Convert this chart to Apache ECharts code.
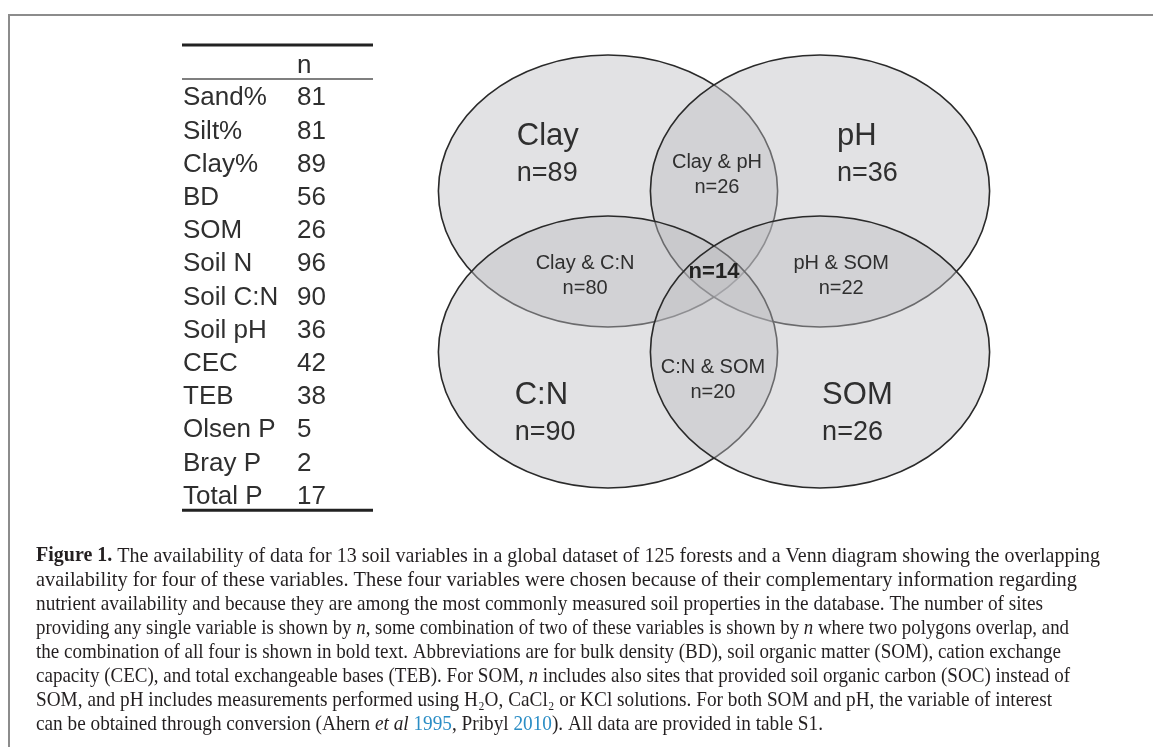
<!DOCTYPE html>
<html><head><meta charset="utf-8">
<script src="https://cdn.jsdelivr.net/npm/echarts@6/dist/echarts.min.js"></script>
<style>html,body{margin:0;padding:0;background:#fff}#c{width:1153px;height:747px}</style>
</head><body><div id="c"></div>
<script>
// ---------------- data ----------------
const tableVariables = ['Sand%','Silt%','Clay%','BD','SOM','Soil N','Soil C:N','Soil pH','CEC','TEB','Olsen P','Bray P','Total P'];
const tableCounts = [81,81,89,56,26,96,90,36,42,38,5,2,17];
const tableHeader = 'n';

const setNames = ['Clay','pH','C:N','SOM'];
const setCounts = [89,36,90,26];
const setCol = [0,1,0,1];
const setRow = [0,0,1,1];

const pairNames = ['Clay & pH','Clay & C:N','pH & SOM','C:N & SOM'];
const pairCounts = [26,80,22,20];
const allFourCount = 14;

const captionLines = [
  '{b|Figure 1.} The availability of data for 13 soil variables in a global dataset of 125 forests and a Venn diagram showing the overlapping',
  'availability for four of these variables. These four variables were chosen because of their complementary information regarding',
  'nutrient availability and because they are among the most commonly measured soil properties in the database. The number of sites',
  'providing any single variable is shown by {i|n}, some combination of two of these variables is shown by {i|n} where two polygons overlap, and',
  'the combination of all four is shown in bold text. Abbreviations are for bulk density (BD), soil organic matter (SOM), cation exchange',
  'capacity (CEC), and total exchangeable bases (TEB). For SOM, {i|n} includes also sites that provided soil organic carbon (SOC) instead of',
  'SOM, and pH includes measurements performed using H\u2082O, CaCl\u2082 or KCl solutions. For both SOM and pH, the variable of interest',
  'can be obtained through conversion (Ahern {i|et al} {l|1995}, Pribyl {l|2010}). All data are provided in table S1.'
];

// ---------------- layout ----------------
const SANS = '"Liberation Sans", Arial, sans-serif';
const SERIF = '"Liberation Serif", "Times New Roman", serif';
const TXT = '#2f2f2f';
const ELL_RX = 0.80, ELL_RY = 0.845;          // ellipse radii in grid units
const singleLabelPos = [[-0.43,-0.34],[1.08,-0.34],[-0.44,1.27],[1.01,1.27]];
const pairLabelPos = [[0.514,-0.18],[-0.108,0.45],[1.10,0.453],[0.495,1.096]];
const allFourPos = [0.5,0.503];
const captionRight = [1100,1077,1043,1069,1061,1070,1052,823];
const capX = 36, capY0 = 556, capDY = 24, capSize = 21;
const rowTop = 81.7, rowH = 33.2;

// measure rich caption text for horizontal fit
const mctx = document.createElement('canvas').getContext('2d');
const fonts = {
  r: capSize + 'px ' + SERIF,
  b: 'bold ' + capSize + 'px ' + SERIF,
  i: 'italic ' + capSize + 'px ' + SERIF,
  l: capSize + 'px ' + SERIF
};
function measureRich(s){
  let w = 0; const re = /\{(\w)\|([^}]*)\}/g; let last = 0, m;
  while ((m = re.exec(s))){
    mctx.font = fonts.r; w += mctx.measureText(s.slice(last, m.index)).width;
    mctx.font = fonts[m[1]]; w += mctx.measureText(m[2]).width;
    last = re.lastIndex;
  }
  mctx.font = fonts.r; w += mctx.measureText(s.slice(last)).width;
  return w;
}

const graphics = [
  {type:'polyline', shape:{points:[[9,747],[9,15],[1153,15]]}, style:{stroke:'#8c8c8c', lineWidth:2, fill:null}, silent:true},
  {type:'line', shape:{x1:182,y1:45,x2:373,y2:45}, style:{stroke:'#222', lineWidth:3}},
  {type:'line', shape:{x1:182,y1:79,x2:373,y2:79}, style:{stroke:'#555', lineWidth:1.5}},
  {type:'line', shape:{x1:182,y1:rowTop+tableVariables.length*rowH-3,x2:373,y2:rowTop+tableVariables.length*rowH-3}, style:{stroke:'#222', lineWidth:3}},
  {type:'text', x:297, y:66, style:{text:tableHeader, font:'26px '+SANS, fill:TXT, align:'left', verticalAlign:'middle', textAlign:'left', textVerticalAlign:'middle'}}
];
captionLines.forEach(function(line, k){
  const w = measureRich(line);
  const sx = (captionRight[k] - capX) / w;
  graphics.push({
    type:'text', x:capX, y:capY0 + k*capDY, scaleX:sx,
    style:{
      text:line, font:fonts.r, fill:'#231f20', align:'left', verticalAlign:'middle', textAlign:'left', textVerticalAlign:'middle',
      rich:{
        b:{fontFamily:SERIF, fontWeight:'bold', fontSize:capSize, fill:'#231f20'},
        i:{fontFamily:SERIF, fontStyle:'italic', fontSize:capSize, fill:'#231f20'},
        l:{fontFamily:SERIF, fontSize:capSize, fill:'#2a8dc5'}
      }
    }
  });
});

const chart = echarts.init(document.getElementById('c'), null, {renderer:'canvas'});
chart.setOption({
  backgroundColor:'#ffffff',
  animation:false,
  grid:[
    {left:396, top:30, width:636, height:483},
    {left:297, top:rowTop, width:76, height:tableVariables.length*rowH}
  ],
  xAxis:[
    {gridIndex:0, type:'value', min:-1, max:2, show:false},
    {gridIndex:1, type:'value', min:0, max:1, show:false}
  ],
  yAxis:[
    {gridIndex:0, type:'value', min:-1, max:2, inverse:true, show:false},
    {gridIndex:1, type:'category', inverse:true, data:tableVariables,
     axisLine:{show:false}, axisTick:{show:false}, splitLine:{show:false},
     axisLabel:{interval:0, align:'left', margin:114, fontSize:26, fontFamily:SANS, color:TXT}}
  ],
  series:[
    { // the four ellipses
      type:'custom', xAxisIndex:0, yAxisIndex:0,
      data:setNames.map(function(n,i){return [setCol[i], setRow[i], setCounts[i]];}),
      renderItem:function(params, api){
        const c = api.coord([api.value(0), api.value(1)]);
        const s = api.size([ELL_RX, ELL_RY]);
        return {type:'ellipse', shape:{cx:c[0], cy:c[1], rx:s[0], ry:s[1]},
                style:{fill:'rgba(188,189,193,0.44)', stroke:'#2a2a2a', lineWidth:1.6}};
      }
    },
    { // single set labels
      type:'custom', xAxisIndex:0, yAxisIndex:0, silent:true,
      data:setNames.map(function(n,i){return [singleLabelPos[i][0], singleLabelPos[i][1], setCounts[i]];}),
      renderItem:function(params, api){
        const c = api.coord([api.value(0), api.value(1)]);
        const i = params.dataIndex;
        return {type:'group', children:[
          {type:'text', x:c[0], y:c[1], style:{text:setNames[i], font:'31px '+SANS, fill:TXT, align:'left', verticalAlign:'middle', textAlign:'left', textVerticalAlign:'middle'}},
          {type:'text', x:c[0], y:c[1]+37, style:{text:'n=' + api.value(2), font:'27px '+SANS, fill:TXT, align:'left', verticalAlign:'middle', textAlign:'left', textVerticalAlign:'middle'}}
        ]};
      }
    },
    { // pair labels
      type:'custom', xAxisIndex:0, yAxisIndex:0, silent:true,
      data:pairNames.map(function(n,i){return [pairLabelPos[i][0], pairLabelPos[i][1], pairCounts[i]];}),
      renderItem:function(params, api){
        const c = api.coord([api.value(0), api.value(1)]);
        const i = params.dataIndex;
        return {type:'group', children:[
          {type:'text', x:c[0], y:c[1], style:{text:pairNames[i], font:'20px '+SANS, fill:TXT, align:'center', verticalAlign:'middle', textAlign:'center', textVerticalAlign:'middle'}},
          {type:'text', x:c[0], y:c[1]+25, style:{text:'n=' + api.value(2), font:'20px '+SANS, fill:TXT, align:'center', verticalAlign:'middle', textAlign:'center', textVerticalAlign:'middle'}}
        ]};
      }
    },
    { // all four
      type:'custom', xAxisIndex:0, yAxisIndex:0, silent:true,
      data:[[allFourPos[0], allFourPos[1], allFourCount]],
      renderItem:function(params, api){
        const c = api.coord([api.value(0), api.value(1)]);
        return {type:'text', x:c[0], y:c[1], style:{text:'n=' + api.value(2), font:'bold 22px '+SANS, fill:'#222', align:'center', verticalAlign:'middle', textAlign:'center', textVerticalAlign:'middle'}};
      }
    },
    { // table values
      type:'custom', xAxisIndex:1, yAxisIndex:1, silent:true,
      data:tableCounts.map(function(v,i){return [0, i, v];}),
      renderItem:function(params, api){
        const c = api.coord([0, api.value(1)]);
        return {type:'text', x:c[0], y:c[1], style:{text:String(api.value(2)), font:'26px '+SANS, fill:TXT, align:'left', verticalAlign:'middle', textAlign:'left', textVerticalAlign:'middle'}};
      }
    }
  ],
  graphic:{elements:graphics}
});
</script></body></html>
